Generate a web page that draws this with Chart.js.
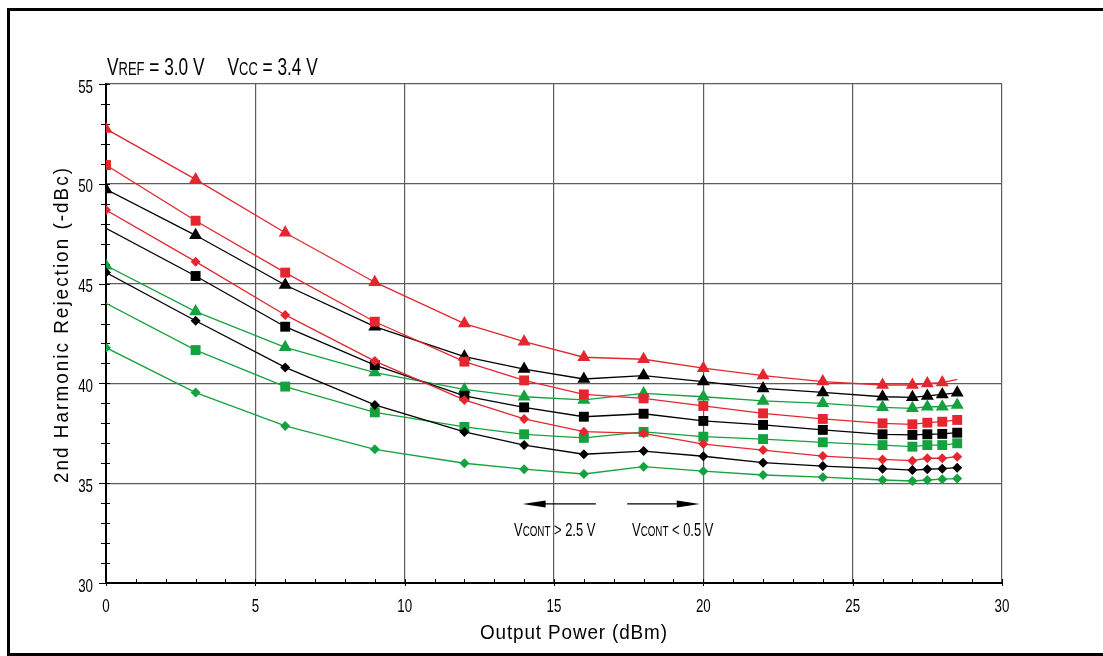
<!DOCTYPE html>
<html>
<head>
<meta charset="utf-8">
<style>
  html, body { margin: 0; padding: 0; background: #fff; }
  #wrap { width: 1103px; height: 656px; }
</style>
<script src="https://cdn.jsdelivr.net/npm/chart.js@4/dist/chart.umd.min.js"></script>
</head>
<body>
<div id="wrap"><canvas id="harmonicChart" width="1103" height="656"></canvas></div>
<script>
// Output power points (dBm)
const outputPower = [0, 3, 6, 9, 12, 14, 16, 18, 20, 22, 24, 26, 27, 27.5, 28, 28.5];

// 2nd harmonic rejection (-dBc)
const redTriangle = [52.75, 50.22, 47.55, 45.07, 43.0, 42.09, 41.31, 41.21, 40.76, 40.39, 40.09, 39.92, 39.92, 40.0, 40.04, 40.2];
const blackTriangle = [49.72, 47.42, 44.93, 42.84, 41.34, 40.72, 40.22, 40.39, 40.09, 39.75, 39.55, 39.33, 39.3, 39.37, 39.45, 39.53];
const greenTriangle = [45.9, 43.6, 41.81, 40.54, 39.7, 39.33, 39.17, 39.5, 39.33, 39.12, 39.0, 38.8, 38.75, 38.83, 38.83, 38.92];
const redSquare = [50.94, 48.15, 45.55, 43.09, 41.09, 40.15, 39.45, 39.25, 38.87, 38.5, 38.22, 38.0, 37.95, 38.03, 38.08, 38.17];
const blackSquare = [47.77, 45.38, 42.84, 40.92, 39.38, 38.8, 38.33, 38.48, 38.12, 37.92, 37.67, 37.45, 37.42, 37.45, 37.47, 37.53];
const greenSquare = [44.01, 41.67, 39.84, 38.55, 37.82, 37.45, 37.27, 37.57, 37.33, 37.21, 37.05, 36.91, 36.83, 36.91, 36.91, 37.0];
const redDiamond = [48.69, 46.1, 43.43, 41.12, 39.17, 38.22, 37.58, 37.5, 36.96, 36.66, 36.36, 36.19, 36.13, 36.25, 36.25, 36.33];
const blackDiamond = [45.55, 43.14, 40.8, 38.92, 37.57, 36.91, 36.45, 36.61, 36.35, 36.03, 35.86, 35.73, 35.66, 35.7, 35.73, 35.78];
const greenDiamond = [41.79, 39.54, 37.87, 36.7, 36.0, 35.7, 35.46, 35.83, 35.6, 35.41, 35.3, 35.16, 35.11, 35.16, 35.2, 35.23];

// Axis ticks
const xTicks = [0, 5, 10, 15, 20, 25, 30];
const yTicks = [30, 35, 40, 45, 50, 55];

const FONT = "'Liberation Sans', Arial, sans-serif";
const RED = "#e3262f";
const GREEN = "#14a23f";
const BLACK = "#000000";

// helper to build one series
function series(values, color, shape, size, hidden) {
  let radius = values.map((v, i) => (hidden.includes(i) ? 0 : size));
  return {
    data: values.map((v, i) => ({ x: outputPower[i], y: v })),
    borderColor: color,
    backgroundColor: color,
    borderWidth: 1.3,
    pointStyle: shape,
    pointRadius: radius,
    pointBorderWidth: 0,
    pointHoverRadius: radius,
    tension: 0,
  };
}

// narrow text: pieces = [[text, size], ...], sx = horizontal squeeze, gap = extra px per char
function narrowWidth(ctx, pieces, sx, gap) {
  let w = 0, n = 0;
  for (const [t, s] of pieces) {
    ctx.font = s + "px " + FONT;
    for (const ch of t) { w += ctx.measureText(ch).width * sx; n++; }
  }
  return w + gap * (n - 1);
}
function narrowText(ctx, pieces, x, y, sx, gap, align) {
  let w = narrowWidth(ctx, pieces, sx, gap);
  let px = align === "center" ? x - w / 2 : align === "right" ? x - w : x;
  ctx.textAlign = "left";
  ctx.textBaseline = "alphabetic";
  for (const [t, s] of pieces) {
    ctx.font = s + "px " + FONT;
    for (const ch of t) {
      ctx.save();
      ctx.translate(px, y);
      ctx.scale(sx, 1);
      ctx.fillText(ch, 0, 0);
      ctx.restore();
      px += ctx.measureText(ch).width * sx + gap;
    }
  }
}
// gap needed so a string fills a given width
function gapFor(ctx, pieces, sx, width) {
  let n = pieces.reduce((k, p) => k + [...p[0]].length, 0);
  return (width - narrowWidth(ctx, pieces, sx, 0)) / (n - 1);
}

// frame, ticks, labels, header and arrow notes
const extrasPlugin = {
  id: "extras",
  beforeDatasetsDraw(chart) {
    const ctx = chart.ctx;
    const xs = chart.scales.x;
    const ys = chart.scales.y;
    const a = chart.chartArea;
    ctx.save();
    ctx.strokeStyle = "#000";
    ctx.lineWidth = 1;
    for (let v = 30; v <= 55; v++) {
      let py = Math.round(ys.getPixelForValue(v)) + 0.5;
      ctx.beginPath();
      ctx.moveTo(a.left - (v % 5 === 0 ? 7 : 5), py);
      ctx.lineTo(a.left + 4, py);
      ctx.stroke();
    }
    for (let v = 0; v <= 30; v++) {
      let px = Math.round(xs.getPixelForValue(v)) + 0.5;
      ctx.beginPath();
      ctx.moveTo(px, a.bottom + (v % 5 === 0 ? 3 : 0));
      ctx.lineTo(px, a.bottom - 4);
      ctx.stroke();
    }
    ctx.restore();
  },
  afterDraw(chart) {
    const ctx = chart.ctx;
    const xs = chart.scales.x;
    const ys = chart.scales.y;
    const a = chart.chartArea;
    ctx.save();
    ctx.fillStyle = "#000";

    // outer frame (left, top, bottom)
    ctx.strokeStyle = "#000";
    ctx.lineWidth = 3;
    ctx.beginPath();
    ctx.moveTo(1103, 9.5);
    ctx.lineTo(8.5, 9.5);
    ctx.lineTo(8.5, 654.5);
    ctx.lineTo(1103, 654.5);
    ctx.stroke();

    // tick labels
    for (const t of ys.ticks) {
      narrowText(ctx, [[String(t.value), 18]], a.left - 13, ys.getPixelForValue(t.value) + 8.5, 0.74, 0, "right");
    }
    for (const t of xs.ticks) {
      narrowText(ctx, [[String(t.value), 18]], xs.getPixelForValue(t.value), a.bottom + 29, 0.74, 0, "center");
    }

    // axis titles
    let xt = [["Output Power (dBm)", 21]];
    narrowText(ctx, xt, 573.5, 639, 0.9, gapFor(ctx, xt, 0.9, 187), "center");
    let yt = [["2nd Harmonic Rejection (-dBc)", 21]];
    ctx.save();
    ctx.translate(68, 325.5);
    ctx.rotate(-Math.PI / 2);
    narrowText(ctx, yt, 0, 0, 0.9, gapFor(ctx, yt, 0.9, 315), "center");
    ctx.restore();

    // header: VREF = 3.0 V   VCC = 3.4 V
    narrowText(ctx, [["V", 24], ["REF", 18], [" = 3.0 V", 24]], 107, 75, 0.72, 0, "left");
    narrowText(ctx, [["V", 24], ["CC", 18], [" = 3.4 V", 24]], 227.5, 75, 0.72, 0, "left");

    // arrows for Vcont regions
    const ay = ys.getPixelForValue(33.96);
    function arrow(fromV, toV) {
      let x1 = xs.getPixelForValue(fromV);
      let x2 = xs.getPixelForValue(toV);
      let dir = x2 > x1 ? 1 : -1;
      ctx.lineWidth = 1.3;
      ctx.beginPath();
      ctx.moveTo(x1, ay);
      ctx.lineTo(x2 - dir * 18, ay);
      ctx.stroke();
      ctx.beginPath();
      ctx.moveTo(x2, ay);
      ctx.lineTo(x2 - dir * 23, ay - 3.5);
      ctx.lineTo(x2 - dir * 23, ay + 3.5);
      ctx.closePath();
      ctx.fill();
    }
    arrow(16.4, 13.95);
    arrow(17.45, 19.88);

    // labels under the arrows
    narrowText(ctx, [["V", 18.5], ["CONT", 14], [" > 2.5 V", 18.5]], 514, 536, 0.7, 0, "left");
    narrowText(ctx, [["V", 18.5], ["CONT", 14], [" < 0.5 V", 18.5]], 632, 536, 0.7, 0, "left");
    ctx.restore();
  },
};

new Chart(document.getElementById("harmonicChart"), {
  type: "line",
  data: {
    datasets: [
      series(greenDiamond, GREEN, "rectRot", 5, []),
      series(blackDiamond, BLACK, "rectRot", 5, []),
      series(redDiamond, RED, "rectRot", 5, []),
      series(greenSquare, GREEN, "rect", 7, [0]),
      series(blackSquare, BLACK, "rect", 7, [0]),
      series(redSquare, RED, "rect", 7, []),
      series(greenTriangle, GREEN, "triangle", 7.5, []),
      series(blackTriangle, BLACK, "triangle", 7.5, []),
      series(redTriangle, RED, "triangle", 7.5, [15]),
    ],
  },
  options: {
    responsive: false,
    animation: false,
    events: [],
    layout: { padding: { top: 84, right: 101, left: 10, bottom: 10 } },
    plugins: { legend: { display: false }, tooltip: { enabled: false } },
    scales: {
      x: {
        type: "linear",
        min: 0,
        max: 30,
        afterBuildTicks(scale) {
          scale.ticks = xTicks.map((v) => ({ value: v }));
        },
        afterFit(scale) {
          scale.height = 63;
        },
        grid: { color: "#5c5c5c", lineWidth: 1.2, drawTicks: false },
        border: { color: "#000", width: 2 },
        ticks: { display: false },
      },
      y: {
        type: "linear",
        min: 30,
        max: 55,
        afterBuildTicks(scale) {
          scale.ticks = yTicks.map((v) => ({ value: v }));
        },
        afterFit(scale) {
          scale.width = 96;
        },
        grid: { color: "#5c5c5c", lineWidth: 1.2, drawTicks: false },
        border: { color: "#000", width: 2 },
        ticks: { display: false },
      },
    },
  },
  plugins: [extrasPlugin],
});
</script>
</body>
</html>
